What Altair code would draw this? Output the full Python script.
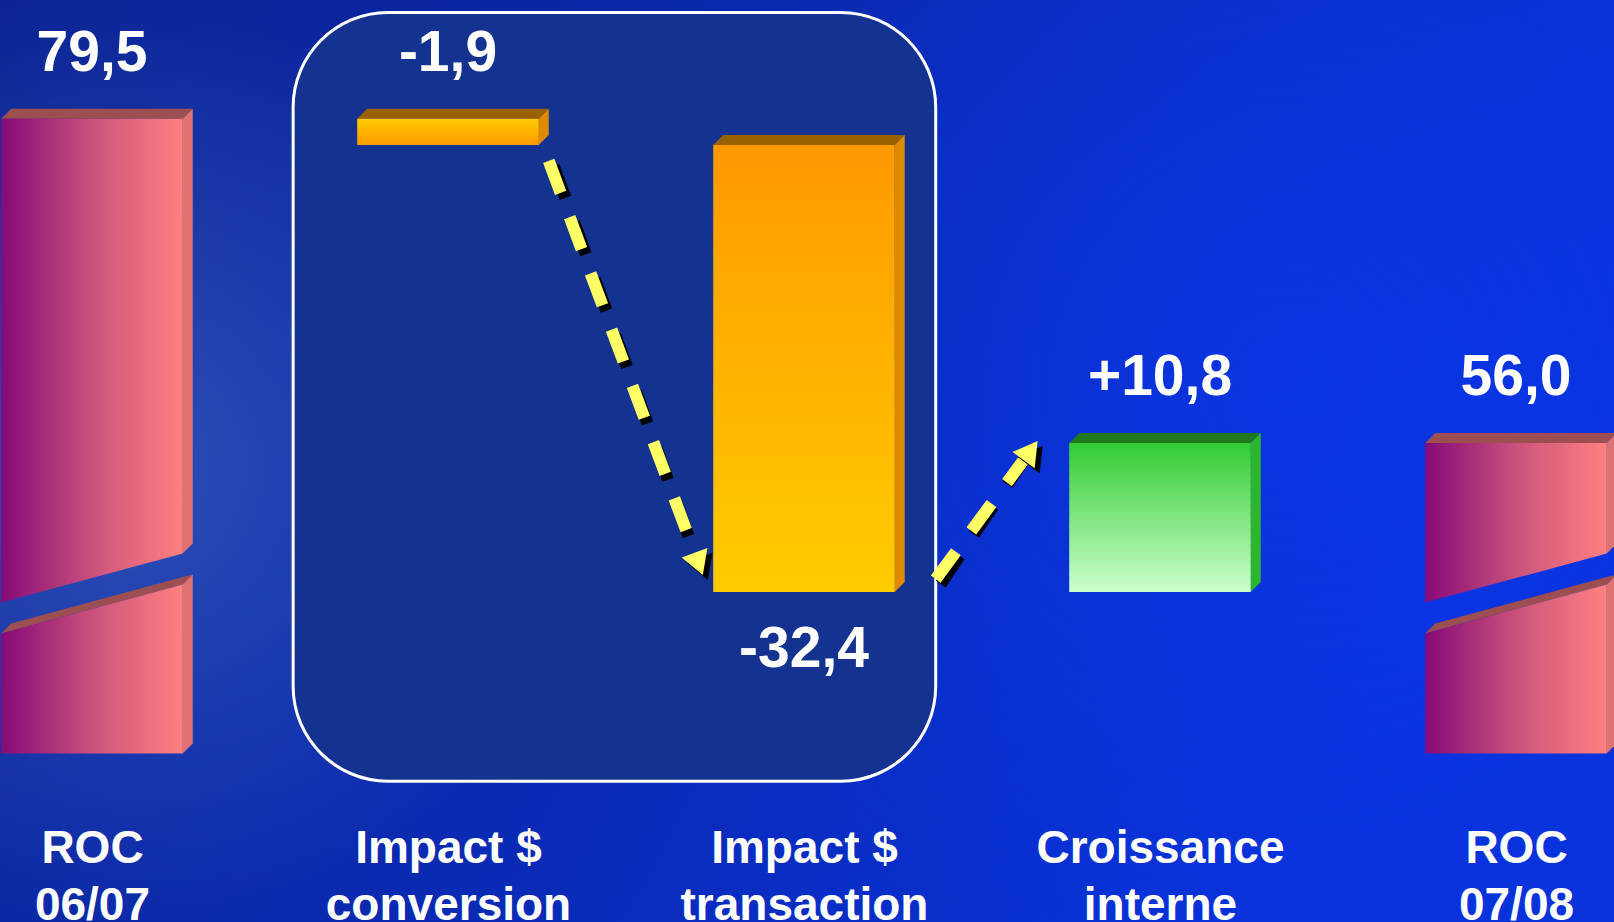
import json
import math
import altair as alt
import pandas as pd

# ------------------------------------------------------------------ data
categories = ["ROC\n06/07", "Impact $\nconversion", "Impact  $\ntransaction",
              "Croissance\ninterne", "ROC\n07/08"]
kinds = ["total", "delta", "delta", "delta", "total"]
values = [79.5, -1.9, -32.4, 10.8, 56.0]
value_labels = ["79,5", "-1,9", "-32,4", "+10,8", "56,0"]

# ------------------------------------------------------------------ styles
W, H = 1614, 922
X_DOMAIN = [-0.2584, 4.2753]
Y_DOMAIN = [21.3, 88.1]
HALF = 0.255          # half bar width (x units)
DX, DY = 0.028, 0.725  # 3-D depth
BASE = 33.5            # baseline of the broken total bars
BREAK_AT, BREAK_SLANT, BREAK_GAP = 45.1, 1.78, 1.12
FRONT_STYLE = ["pink", "amber_down", "amber_up", "green", "pink"]
LABEL_SIDE = ["above", "above", "below", "above", "above"]
PALETTE = {"pink": ("#9c4e50", "#e07272"),
           "amber_down": ("#9a6100", "#e08a00"),
           "amber_up": ("#9a6100", "#e08a00"),
           "green": ("#1f7a1f", "#2db52d")}
FONT = "Liberation Sans"
BOX_PAD_L, BOX_PAD_R, BOX_TOP, BOX_BOTTOM = 0.435, 0.37, 87.2, 31.5

PX_X = W / (X_DOMAIN[1] - X_DOMAIN[0])
PX_Y = H / (Y_DOMAIN[1] - Y_DOMAIN[0])

# ------------------------------------------------------------------ waterfall
bars = []
running = 0.0
for i, (cat, kind, v, lab) in enumerate(zip(categories, kinds, values, value_labels)):
    if kind == "total":
        lo, hi = BASE, v
        running = v
    else:
        start = running
        running = running + v
        lo, hi = min(start, running), max(start, running)
    bars.append(dict(idx=i, cat=cat, lo=lo, hi=hi, label=lab,
                     style=FRONT_STYLE[i], side=LABEL_SIDE[i], broken=(kind == "total")))
bars_df = pd.DataFrame(bars)

front_rows, face_rows = [], []


def add_block(fid, x0, x1, lo_l, lo_r, hi_l, hi_r, style):
    top_col, side_col = PALETTE[style]
    front_rows.append(dict(face=fid, x=x0, lo=lo_l, hi=hi_l, style=style))
    front_rows.append(dict(face=fid, x=x1, lo=lo_r, hi=hi_r, style=style))

    def f(x):
        return hi_l + (hi_r - hi_l) * (x - x0) / (x1 - x0)

    top = fid + "_top"
    for x, l, h in [(x0, hi_l, hi_l), (x0 + DX, f(x0 + DX), hi_l + DY),
                    (x1, hi_r, f(x1 - DX) + DY), (x1 + DX, hi_r + DY, hi_r + DY)]:
        face_rows.append(dict(face=top, x=x, lo=l, hi=h, color=top_col))
    side = fid + "_side"
    face_rows.append(dict(face=side, x=x1, lo=lo_r, hi=hi_r, color=side_col))
    face_rows.append(dict(face=side, x=x1 + DX, lo=lo_r + DY, hi=hi_r + DY, color=side_col))


for b in bars:
    x0, x1 = b["idx"] - HALF, b["idx"] + HALF
    if b["broken"]:
        cl, cr = BREAK_AT - BREAK_SLANT, BREAK_AT + BREAK_SLANT
        add_block(f"b{b['idx']}l", x0, x1, b["lo"], b["lo"], cl - BREAK_GAP, cr - BREAK_GAP, b["style"])
        add_block(f"b{b['idx']}u", x0, x1, cl + BREAK_GAP, cr + BREAK_GAP, b["hi"], b["hi"], b["style"])
    else:
        add_block(f"b{b['idx']}", x0, x1, b["lo"], b["lo"], b["hi"], b["hi"], b["style"])

front_df = pd.DataFrame(front_rows)
faces_df = pd.DataFrame(face_rows)

box_df = pd.DataFrame([dict(x=1 - BOX_PAD_L, x2=2 + BOX_PAD_R, y=BOX_TOP, y2=BOX_BOTTOM)])

# arrows: from bar to bar
arrow_defs = [
    ((1 + HALF + DX, bars[1]["lo"] - 1.16), (2 - HALF - 0.03, bars[2]["lo"] + 1.3)),
    ((2 + BOX_PAD_R, bars[2]["lo"] + 0.94), (3 - HALF - 0.09, bars[3]["hi"] + 0.1)),
]
arrow_rows, head_rows = [], []
for (sx, sy), (ex, ey) in arrow_defs:
    dpx, dpy = (ex - sx) * PX_X, -(ey - sy) * PX_Y
    n = math.hypot(dpx, dpy)
    ux, uy = dpx / n, dpy / n
    end_x, end_y = ex - 16 * ux / PX_X, ey + 16 * uy / PX_Y
    hx, hy = ex - 11 * ux / PX_X, ey + 11 * uy / PX_Y
    ang = math.degrees(math.atan2(ux, -uy)) % 360
    arrow_rows.append(dict(x=sx, y=sy, x2=end_x, y2=end_y))
    head_rows.append(dict(x=hx, y=hy, angle=ang))
arrow_df = pd.DataFrame(arrow_rows)
head_df = pd.DataFrame(head_rows)

# ------------------------------------------------------------------ encodings
label_expr = json.dumps([c.split("\n") for c in categories]) + "[datum.value]"
XS = alt.Scale(domain=X_DOMAIN, nice=False, zero=False)
YS = alt.Scale(domain=Y_DOMAIN, nice=False, zero=False)
X_AXIS = alt.Axis(values=[0, 1, 2, 3, 4], labelExpr=label_expr, domain=False, ticks=False,
                  tickSize=0, grid=False, labelColor="white", labelFont=FONT,
                  labelFontSize=46, labelFontWeight="bold", labelLineHeight=57,
                  labelPadding=0, labelOverlap=False, labelFlush=False, labelBound=False,
                  labelLimit=600, labelAngle=0, offset=-96, title=None, zindex=2)


def X(f):
    return alt.X(f, type="quantitative", scale=XS, axis=X_AXIS)


def Y(f):
    return alt.Y(f, type="quantitative", scale=YS, axis=None, stack=None)


def grad_h(stops):
    return alt.Gradient(gradient="linear", x1=0, x2=1, y1=0, y2=0,
                        stops=[alt.GradientStop(color=c, offset=o) for c, o in stops])


def grad_v(stops):
    return alt.Gradient(gradient="linear", x1=0, x2=0, y1=0, y2=1,
                        stops=[alt.GradientStop(color=c, offset=o) for c, o in stops])


FRONT_FILL = {
    "pink": grad_h([("#860a78", 0), ("#d0587c", 0.55), ("#ff8080", 1)]),
    "amber_down": grad_v([("#ffcc00", 0), ("#ff9900", 1)]),
    "amber_up": grad_v([("#ff9900", 0), ("#ffcc00", 1)]),
    "green": grad_v([("#33cc33", 0), ("#ccffcc", 1)]),
}

one = pd.DataFrame({"a": [0]})
background = alt.Chart(one).mark_rect(
    fill=alt.Gradient(gradient="linear", x1=0, y1=0, x2=1, y2=0.3,
                      stops=[alt.GradientStop(color="#0a2292", offset=0),
                             alt.GradientStop(color="#0a29ae", offset=0.45),
                             alt.GradientStop(color="#0832da", offset=1)])
).encode(x=alt.value(0), x2=alt.value("width"), y=alt.value(0), y2=alt.value("height"))

haze_left = alt.Chart(one).mark_rect(
    fill=alt.Gradient(gradient="radial", x1=0.07, y1=0.5, r1=0, x2=0.07, y2=0.5, r2=0.3,
                      stops=[alt.GradientStop(color="rgba(90,130,210,0.45)", offset=0),
                             alt.GradientStop(color="rgba(90,130,210,0)", offset=1)])
).encode(x=alt.value(0), x2=alt.value("width"), y=alt.value(0), y2=alt.value("height"))

haze_right = alt.Chart(one).mark_rect(
    fill=alt.Gradient(gradient="radial", x1=0.8, y1=0.45, r1=0, x2=0.8, y2=0.45, r2=0.4,
                      stops=[alt.GradientStop(color="rgba(12,56,240,0.6)", offset=0),
                             alt.GradientStop(color="rgba(12,56,240,0)", offset=1)])
).encode(x=alt.value(0), x2=alt.value("width"), y=alt.value(0), y2=alt.value("height"))

box = alt.Chart(box_df).mark_rect(
    cornerRadius=95, fill="#143290", stroke="white", strokeWidth=3
).encode(x=X("x"), x2="x2", y=Y("y"), y2="y2")

arrow_shadow = alt.Chart(arrow_df).mark_rule(
    color="black", strokeWidth=12, strokeDash=[34, 26], strokeCap="butt", xOffset=5, yOffset=5
).encode(x=X("x"), y=Y("y"), x2="x2", y2="y2")
arrow_line = alt.Chart(arrow_df).mark_rule(
    color="#ffff66", strokeWidth=12, strokeDash=[34, 26], strokeCap="butt"
).encode(x=X("x"), y=Y("y"), x2="x2", y2="y2")
head_shadow = alt.Chart(head_df).mark_point(
    shape="triangle-up", size=750, filled=True, color="black", opacity=1, xOffset=5, yOffset=5
).encode(x=X("x"), y=Y("y"), angle=alt.Angle("angle:Q", scale=None))
head = alt.Chart(head_df).mark_point(
    shape="triangle-up", size=750, filled=True, color="#ffff66", opacity=1
).encode(x=X("x"), y=Y("y"), angle=alt.Angle("angle:Q", scale=None))

faces = alt.Chart(faces_df).mark_area(orient="vertical", interpolate="linear").encode(
    x=X("x"), y=Y("lo"), y2="hi", detail="face:N",
    color=alt.Color("color:N", scale=None))

fronts = [
    alt.Chart(front_df).transform_filter(alt.datum.style == s).mark_area(
        orient="vertical", interpolate="linear", fill=g
    ).encode(x=X("x"), y=Y("lo"), y2="hi", detail="face:N")
    for s, g in FRONT_FILL.items()
]

lab_above = alt.Chart(bars_df).transform_filter(alt.datum.side == "above").mark_text(
    font=FONT, fontSize=57, fontWeight="bold", color="white", baseline="alphabetic",
    align="center", dy=-48
).encode(x=X("idx"), y=Y("hi"), text="label:N")
lab_below = alt.Chart(bars_df).transform_filter(alt.datum.side == "below").mark_text(
    font=FONT, fontSize=57, fontWeight="bold", color="white", baseline="alphabetic",
    align="center", dy=75
).encode(x=X("idx"), y=Y("lo"), text="label:N")

chart = alt.layer(
    background, haze_left, haze_right, box,
    arrow_shadow, arrow_line, head_shadow, head,
    faces, *fronts, lab_above, lab_below
).properties(
    width=W, height=H, padding=0,
    autosize=alt.AutoSizeParams(type="none"),
    background="#0a2aa0"
).configure_view(strokeWidth=0)

chart.save("out.html", embed_options={"renderer": "svg", "actions": False})
